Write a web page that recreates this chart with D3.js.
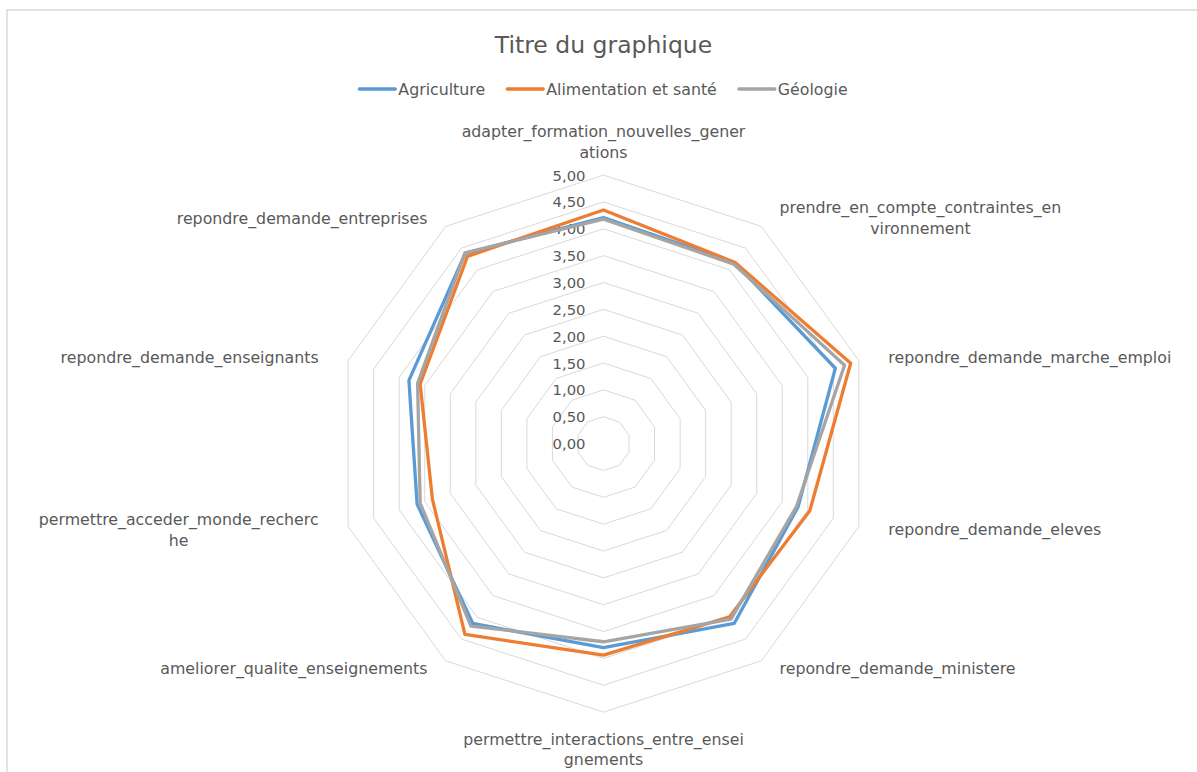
<!DOCTYPE html>
<html><head><meta charset="utf-8">
<script src="https://cdn.jsdelivr.net/npm/d3@7"></script>
<style>
body{margin:0;background:#fff;}
text{font-family:"DejaVu Sans",sans-serif;fill:#595959;}
</style>
</head><body>
<svg id="chart" width="1197" height="772"></svg>
<script>
// ---- data ----
const categories = [
  "adapter_formation_nouvelles_generations",
  "prendre_en_compte_contraintes_environnement",
  "repondre_demande_marche_emploi",
  "repondre_demande_eleves",
  "repondre_demande_ministere",
  "permettre_interactions_entre_enseignements",
  "ameliorer_qualite_enseignements",
  "permettre_acceder_monde_recherche",
  "repondre_demande_enseignants",
  "repondre_demande_entreprises"
];
// character index where Excel wrapped the label (0 = no wrap)
const labelBreaks = [33, 32, 0, 0, 0, 34, 0, 31, 0, 0];
const seriesNames = ["Agriculture", "Alimentation et santé", "Géologie"];
const agriculture  = [4.21, 4.16, 4.54, 3.81, 4.14, 3.80, 4.14, 3.65, 3.81, 4.38];
const alimentation = [4.35, 4.17, 4.84, 4.04, 3.99, 3.94, 4.39, 3.35, 3.59, 4.31];
const geologie     = [4.18, 4.13, 4.72, 3.78, 4.04, 3.69, 4.20, 3.59, 3.64, 4.39];
const tickValues = [0, 0.5, 1, 1.5, 2, 2.5, 3, 3.5, 4, 4.5, 5];
const tickLabels = ["0,00","0,50","1,00","1,50","2,00","2,50","3,00","3,50","4,00","4,50","5,00"];
const colors = ["#5b9bd5", "#ed7d31", "#a5a5a5"];
const title = "Titre du graphique";

// ---- drawing ----
const svg = d3.select("#chart");
const cx = 603.5, cy = 443.6, R = 268.5;
const n = categories.length;
const r = d3.scaleLinear().domain([0, 5]).range([0, R]);
const ang = d3.scaleLinear().domain([0, n]).range([0, 2 * Math.PI]);
const series = [agriculture, alimentation, geologie];
const labelFont = "15.8px";

svg.append("rect").attr("x", 7).attr("y", 10).attr("width", 1300).attr("height", 900)
  .attr("fill", "#fff").attr("stroke", "#d9d9d9").attr("stroke-width", 1.5);

const g = svg.append("g").attr("transform", `translate(${cx},${cy})`);

// grid rings
const ringLine = d3.lineRadial().angle((d, i) => ang(i)).radius(d => r(d)).curve(d3.curveLinearClosed);
g.selectAll("path.ring").data(tickValues.filter(t => t > 0)).join("path")
  .attr("class", "ring")
  .attr("d", t => ringLine(d3.range(n).map(() => t)))
  .attr("fill", "none").attr("stroke", "#d9d9d9").attr("stroke-width", 1);

// tick labels
g.selectAll("text.tick").data(tickValues).join("text")
  .attr("class", "tick")
  .attr("x", -18).attr("y", t => -r(t))
  .attr("text-anchor", "end").attr("dominant-baseline", "central")
  .style("font-size", "14.8px")
  .text((t, i) => tickLabels[i]);

// series
const seriesLine = d3.lineRadial().angle((d, i) => ang(i)).radius(d => r(d)).curve(d3.curveLinearClosed);
g.selectAll("path.series").data(series).join("path")
  .attr("class", "series")
  .attr("d", d => seriesLine(d))
  .attr("fill", "none")
  .attr("stroke", (d, i) => colors[i])
  .attr("stroke-width", 3.3)
  .attr("stroke-linejoin", "round");

// category labels
const lh = 21;
categories.forEach((c, i) => {
  const a = ang(i);
  const s = Math.sin(a), co = Math.cos(a);
  const vx = r(5) * s, vy = -r(5) * co;
  const lines = labelBreaks[i] ? [c.slice(0, labelBreaks[i]), c.slice(labelBreaks[i])] : [c];
  const tg = g.append("g");
  const texts = lines.map(l => tg.append("text").attr("dominant-baseline", "central")
    .style("font-size", labelFont).text(l));
  if (Math.abs(s) < 0.01) {
    texts.forEach((t, k) => {
      const y = co > 0 ? vy - 23 - (lines.length - 1 - k) * lh : vy + 27 + k * 20;
      t.attr("x", vx).attr("y", y).attr("text-anchor", "middle");
    });
  } else {
    const x = vx + 31 * s, y = vy - 10 * co;
    const w = d3.max(texts, t => t.node().getComputedTextLength());
    texts.forEach((t, k) => {
      const ly = y + (k - (lines.length - 1) / 2) * lh;
      if (lines.length > 1) {
        t.attr("x", s > 0 ? x + w / 2 : x - w / 2).attr("text-anchor", "middle");
      } else {
        t.attr("x", x).attr("text-anchor", s > 0 ? "start" : "end");
      }
      t.attr("y", ly);
    });
  }
});

// title
svg.append("text").attr("x", cx).attr("y", 45).attr("text-anchor", "middle")
  .attr("dominant-baseline", "central").style("font-size", "23.5px").text(title);

// legend
const lg = svg.append("g");
let xpos = 0;
const gap = 22;
seriesNames.forEach((name, i) => {
  const it = lg.append("g").attr("transform", `translate(${xpos},0)`);
  it.append("line").attr("x1", 0).attr("x2", 36).attr("y1", 0).attr("y2", 0)
    .attr("stroke", colors[i]).attr("stroke-width", 3.3).attr("stroke-linecap", "round");
  const t = it.append("text").attr("x", 39).attr("y", 0).attr("dominant-baseline", "central")
    .style("font-size", labelFont).text(name);
  const w = 39 + t.node().getComputedTextLength();
  xpos += w + gap;
});
const total = xpos - gap;
lg.attr("transform", `translate(${cx - total / 2},89)`);
</script>
</body></html>
